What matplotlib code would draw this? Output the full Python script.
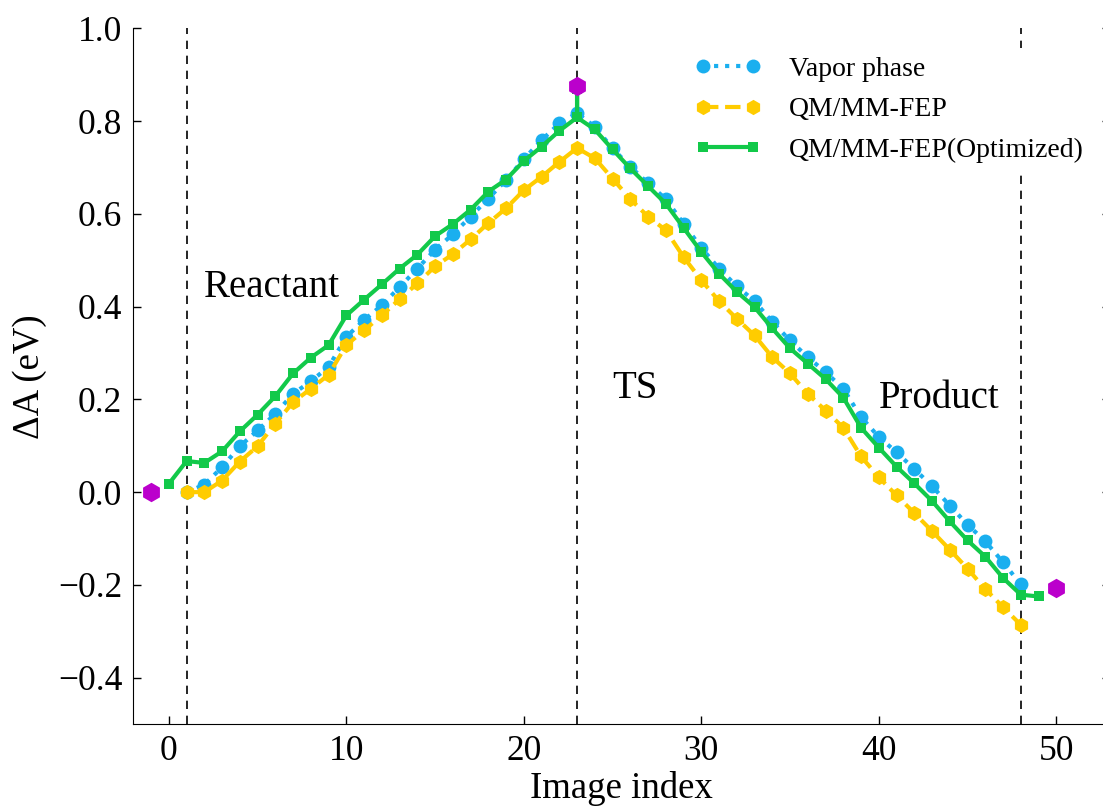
import matplotlib
matplotlib.use('Agg')
import matplotlib.pyplot as plt

# image indices and free energy profiles (eV)
vapor_x = list(range(1, 49))
vapor_y = [0.0, 0.016, 0.054, 0.099, 0.133, 0.169, 0.212, 0.239, 0.270, 0.335,
           0.371, 0.403, 0.442, 0.482, 0.523, 0.556, 0.594, 0.633, 0.673, 0.718,
           0.759, 0.795, 0.817, 0.788, 0.741, 0.702, 0.666, 0.632, 0.579, 0.527,
           0.482, 0.444, 0.412, 0.367, 0.327, 0.291, 0.259, 0.223, 0.162, 0.119,
           0.086, 0.050, 0.013, -0.029, -0.070, -0.106, -0.151, -0.199]

fep_x = list(range(1, 49))
fep_y = [0.0, 0.0, 0.025, 0.066, 0.099, 0.148, 0.194, 0.223, 0.253, 0.317,
         0.349, 0.381, 0.416, 0.450, 0.487, 0.513, 0.545, 0.580, 0.612, 0.651,
         0.680, 0.712, 0.742, 0.720, 0.676, 0.632, 0.594, 0.565, 0.507, 0.457,
         0.412, 0.374, 0.338, 0.291, 0.256, 0.212, 0.176, 0.139, 0.077, 0.032,
         -0.007, -0.045, -0.084, -0.124, -0.165, -0.209, -0.248, -0.286]

opt_x = list(range(0, 24)) + [23, 23] + list(range(24, 50))
opt_y = [0.018, 0.067, 0.063, 0.088, 0.131, 0.167, 0.207, 0.256, 0.290, 0.317,
         0.381, 0.415, 0.448, 0.482, 0.512, 0.552, 0.578, 0.609, 0.648, 0.674,
         0.714, 0.745, 0.779, 0.808, 0.870, 0.808,
         0.782, 0.739, 0.698, 0.660, 0.622, 0.570, 0.518, 0.471, 0.432, 0.399,
         0.353, 0.310, 0.277, 0.244, 0.204, 0.139, 0.096, 0.055, 0.019, -0.019,
         -0.063, -0.104, -0.139, -0.185, -0.221, -0.225]

end_x = [-1, 23, 50]
end_y = [0.0, 0.875, -0.206]

region_x = [1, 23, 48]
labels = ['Vapor phase', 'QM/MM-FEP', 'QM/MM-FEP(Optimized)']

plt.rcParams['font.family'] = ['Liberation Serif', 'DejaVu Serif']
plt.rcParams['axes.unicode_minus'] = True

fig = plt.figure(figsize=(11.03, 8.06), dpi=100)
ax = fig.add_axes([0.1209, 0.1017, 0.885, 0.8631])

for xv in region_x:
    ax.axvline(xv, color='black', linestyle='--', linewidth=1.2, dashes=(5, 4), zorder=1)

ax.plot(vapor_x, vapor_y, linestyle=':', linewidth=3, color='#1AAFEF',
        marker='o', markersize=10, markeredgewidth=0, label=labels[0], zorder=3)
ax.plot(fep_x, fep_y, linestyle='--', linewidth=3, color='#FFCC00',
        marker='h', markersize=11, markeredgewidth=0, label=labels[1], zorder=3)
ax.plot(opt_x, opt_y, linestyle='-', linewidth=3, color='#12C94A',
        marker='s', markersize=7, markeredgewidth=0, label=labels[2], zorder=4)
ax.plot(end_x, end_y, linestyle='none', color='#BB00CC',
        marker='h', markersize=14, markeredgewidth=0, zorder=5)

ax.text(2.0, 0.442, 'Reactant', fontsize=28, ha='left', va='center')
ax.text(25.0, 0.224, 'TS', fontsize=28, ha='left', va='center')
ax.text(40.0, 0.202, 'Product', fontsize=28, ha='left', va='center')

ax.set_xlim(-2, 53)
ax.set_ylim(-0.5, 1.0)
ax.set_xticks([0, 10, 20, 30, 40, 50])
ax.set_yticks([-0.4, -0.2, 0.0, 0.2, 0.4, 0.6, 0.8, 1.0])
ax.set_yticklabels(['\u22120.4', '\u22120.2', '0.0', '0.2', '0.4', '0.6', '0.8', '1.0'])
ax.spines['top'].set_visible(False)
ax.tick_params(direction='in', length=6, width=1, labelsize=25.5, pad=8,
               top=False, right=True)
ax.set_xlabel('Image index', fontsize=26.5, labelpad=2)
ax.set_ylabel('\u0394A (eV)', fontsize=26.5, labelpad=8)

leg = ax.legend(loc='upper left', bbox_to_anchor=(0.566, 0.972), fontsize=20,
                numpoints=2, handlelength=2.4, handletextpad=1.0,
                labelspacing=0.55, borderpad=0.3, borderaxespad=0,
                frameon=True, fancybox=False)
leg.get_frame().set_edgecolor('none')
leg.get_frame().set_facecolor('white')
leg.get_frame().set_alpha(1)

fig.savefig('out.png', dpi=100)
